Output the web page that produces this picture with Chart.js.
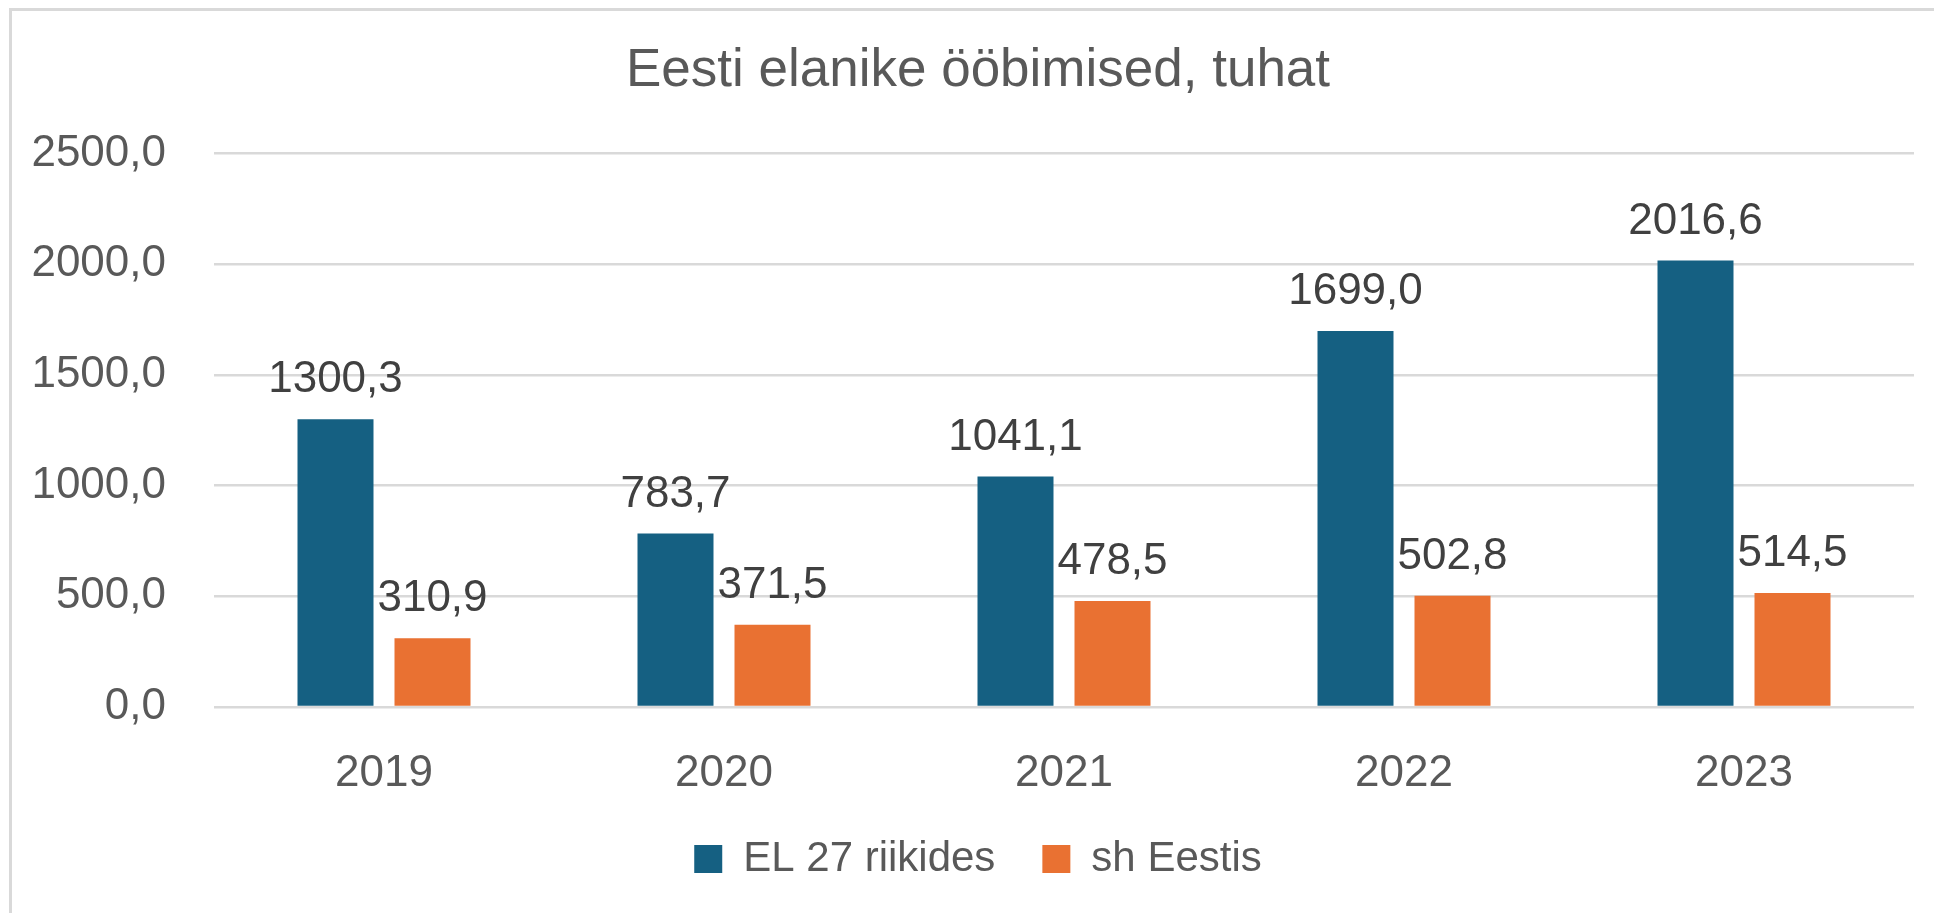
<html>
<head>
<script src="https://cdn.jsdelivr.net/npm/chart.js@4.4.1/dist/chart.umd.min.js"></script>
<style>
  body { margin: 0; background: #fff; overflow: hidden; }
  #frame { position: absolute; left: 9px; top: 8px; width: 2000px; height: 1000px;
           border-left: 3px solid #d9d9d9; border-top: 3px solid #d9d9d9; pointer-events: none; }
  #wrap { position: absolute; left: 0; top: 0; width: 1934px; height: 913px; }
</style>
</head>
<body>
<div id="wrap"><canvas id="myChart"></canvas></div>
<div id="frame"></div>
<script>
// data
var years = ["2019", "2020", "2021", "2022", "2023"];
var euValues = [1300.3, 783.7, 1041.1, 1699.0, 2016.6];
var estValues = [310.9, 371.5, 478.5, 502.8, 514.5];
var seriesNames = ["EL 27 riikides", "sh Eestis"];
var yTicks = [0, 500, 1000, 1500, 2000, 2500];

function fmt(v) { return v.toFixed(1).replace('.', ','); }

var FONT = "'Liberation Sans', Arial, sans-serif";

// value labels above each bar
var valueLabels = {
    id: 'valueLabels',
    afterDatasetsDraw: function (chart) {
        var ctx = chart.ctx;
        ctx.save();
        ctx.font = "44px " + FONT;
        ctx.fillStyle = "#404040";
        ctx.textAlign = "center";
        ctx.textBaseline = "alphabetic";
        chart.data.datasets.forEach(function (ds, i) {
            chart.getDatasetMeta(i).data.forEach(function (bar, j) {
                ctx.fillText(fmt(ds.data[j]), bar.x, bar.y - 27);
            });
        });
        ctx.restore();
    }
};

// let the y labels use the space left of the layout padding (they get clipped to the scale box otherwise)
var widenY = {
    id: 'widenY',
    afterLayout: function (chart) { chart.scales.y.left = 0; }
};

var ctx = document.getElementById("myChart").getContext("2d");
var chart = new Chart(ctx, {
    type: 'bar',
    data: {
        labels: years,
        datasets: [
            { label: seriesNames[0], data: euValues, backgroundColor: "#156082" },
            { label: seriesNames[1], data: estValues, backgroundColor: "#E97132" }
        ]
    },
    options: {
        responsive: true,
        maintainAspectRatio: false,
        animation: false,
        categoryPercentage: 0.5706,
        barPercentage: 0.7835,
        layout: { padding: { left: 42, right: 20, top: 0, bottom: 23 } },
        plugins: {
            title: {
                display: true,
                text: "Eesti elanike ööbimised, tuhat",
                color: "#595959",
                font: { family: FONT, size: 53, weight: 'normal' },
                padding: { top: 40, bottom: 50 }
            },
            legend: {
                position: 'bottom',
                labels: {
                    color: "#595959",
                    font: { family: FONT, size: 42 },
                    boxWidth: 28,
                    boxHeight: 28,
                    padding: 47
                }
            },
            tooltip: { enabled: false }
        },
        scales: {
            x: {
                grid: { display: false },
                border: { display: false },
                afterFit: function (scale) { scale.height = 84; },
                ticks: { color: "#595959", font: { family: FONT, size: 44 }, padding: 32 }
            },
            y: {
                min: 0,
                max: 2500,
                afterBuildTicks: function (scale) {
                    scale.ticks = yTicks.map(function (v) { return { value: v }; });
                },
                afterFit: function (scale) { scale.width = 172; },
                grid: { color: "#d9d9d9", lineWidth: 2.5, drawTicks: false },
                border: { display: false },
                ticks: {
                    color: "#595959",
                    font: { family: FONT, size: 44 },
                    padding: 48,
                    callback: function (v) { return fmt(v); }
                }
            }
        }
    },
    plugins: [valueLabels, widenY]
});
</script>
</body>
</html>
